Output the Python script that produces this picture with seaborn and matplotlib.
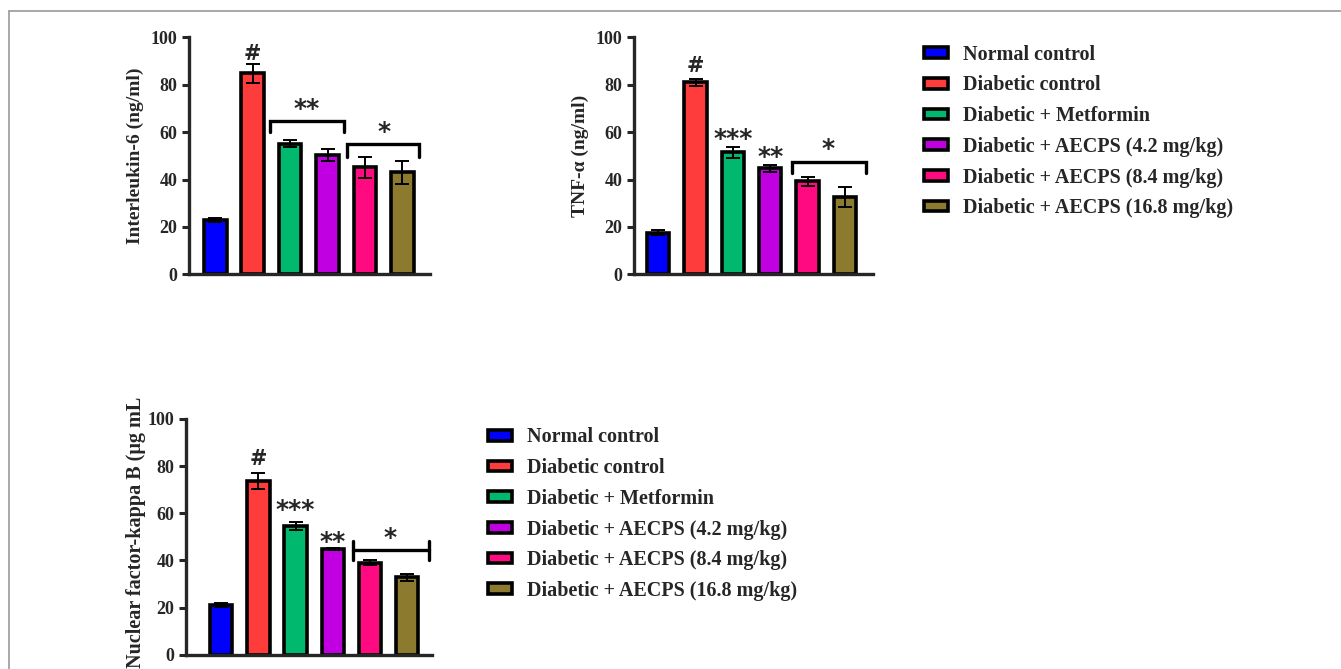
import numpy as np
import pandas as pd
import matplotlib
matplotlib.use("Agg")
import matplotlib.pyplot as plt
import seaborn as sns
from matplotlib.lines import Line2D

# groups and colours
groups = ["Normal control", "Diabetic control", "Diabetic + Metformin",
          "Diabetic + AECPS (4.2 mg/kg)", "Diabetic + AECPS (8.4 mg/kg)",
          "Diabetic + AECPS (16.8 mg/kg)"]
colors = ["#0000ff", "#ff3c3c", "#00b86e", "#c000e0", "#ff0a80", "#8c7a2e"]

# values
il6 = [22.8, 84.8, 55.2, 50.4, 45.2, 43.0]
il6_err = [0.9, 4.2, 1.5, 2.4, 4.4, 4.9]
tnf = [17.6, 81.0, 51.5, 44.7, 39.2, 32.5]
tnf_err = [0.9, 1.5, 2.4, 1.3, 1.8, 4.2]
nfkb = [21.2, 73.7, 54.4, 44.9, 39.1, 32.8]
nfkb_err = [0.7, 3.4, 1.7, 0.5, 1.0, 1.6]

sns.set_style("ticks")
plt.rcParams["font.family"] = ["Liberation Serif", "DejaVu Serif"]
plt.rcParams["font.weight"] = "bold"

fig = plt.figure(figsize=(13.41, 6.69), dpi=100)

def panel(rect, vals, errs, ylabel, xlim, legend=False, lsize=14, lpad=5):
    ax = fig.add_axes(rect)
    df = pd.DataFrame({"group": groups, "value": vals})
    sns.barplot(data=df, x="group", y="value", hue="group", palette=colors,
                saturation=1, width=0.6, edgecolor="black", linewidth=2.6,
                legend=legend, ax=ax, zorder=2)
    ax.errorbar(range(len(vals)), vals, yerr=errs, fmt="none", ecolor="black",
                elinewidth=1.4, capsize=5, capthick=1.4, zorder=3)
    ax.set_ylim(0, 100)
    ax.set_xlim(*xlim)
    ax.set_yticks([0, 20, 40, 60, 80, 100])
    ax.set_xticks([])
    ax.set_xlabel("")
    ax.set_ylabel(ylabel, fontsize=lsize, fontweight="bold", labelpad=lpad)
    ax.tick_params(axis="y", width=2.2, length=5, labelsize=13)
    for lab in ax.get_yticklabels():
        lab.set_fontweight("bold")
    sns.despine(ax=ax)
    ax.spines["left"].set_linewidth(2.4)
    ax.spines["bottom"].set_linewidth(2.4)
    return ax

def stars(ax, x, y, s):
    ax.text(x, y, s, ha="center", va="center", fontsize=18,
            fontweight="bold", family="DejaVu Sans")

def hash_mark(ax, x, y):
    ax.text(x, y, "#", ha="center", va="center", fontsize=15,
            fontweight="bold", family="DejaVu Sans")

def bracket(ax, x0, x1, top, low, high=None):
    if high is None:
        ax.plot([x0, x0, x1, x1], [low, top, top, low], color="black", lw=2.4,
                solid_joinstyle="miter", clip_on=False)
    else:
        ax.plot([x0, x1], [top, top], color="black", lw=2.4, clip_on=False)
        ax.plot([x0, x0], [low, high], color="black", lw=2.4, clip_on=False)
        ax.plot([x1, x1], [low, high], color="black", lw=2.4, clip_on=False)

ax1 = panel([0.141, 0.590, 0.180, 0.354], il6, il6_err,
            "Interleukin-6 (ng/ml)", (-0.7, 5.75))
hash_mark(ax1, 1, 93)
bracket(ax1, 1.47, 3.44, 64.9, 60.0)
stars(ax1, 2.45, 70.0, "**")
bracket(ax1, 3.52, 5.45, 55.0, 49.7)
stars(ax1, 4.5, 60.0, "*")

ax2 = panel([0.473, 0.590, 0.178, 0.354], tnf, tnf_err,
            "TNF-\u03b1 (ng/ml)", (-0.64, 5.75), legend=True)
hash_mark(ax2, 1, 88)
stars(ax2, 2, 57.0, "***")
stars(ax2, 3, 49.5, "**")
bracket(ax2, 3.58, 5.56, 47.3, 42.6)
stars(ax2, 4.55, 53.0, "*")

ax3 = panel([0.139, 0.021, 0.183, 0.353], nfkb, nfkb_err,
            "Nuclear factor-kappa B (\u03bcg mL", (-0.94, 5.67), legend=True,
            lsize=14.5, lpad=1)
ax3.yaxis.set_label_coords(-0.165, 0.52)
hash_mark(ax3, 1, 83)
stars(ax3, 2, 61.5, "***")
stars(ax3, 3, 48.0, "**")
bracket(ax3, 3.55, 5.59, 44.5, 40.3, 48.3)
stars(ax3, 4.55, 49.5, "*")

for ax, anchor in [(ax2, (0.689, 0.933)), (ax3, (0.364, 0.361))]:
    leg = ax.get_legend()
    handles = leg.legend_handles
    labels = [t.get_text() for t in leg.get_texts()]
    leg.remove()
    for h in handles:
        h.set_edgecolor("black")
        h.set_linewidth(2.6)
    ax.legend(handles, labels, loc="upper left", bbox_to_anchor=anchor,
              bbox_transform=fig.transFigure, frameon=False,
              prop={"family": "Liberation Serif", "weight": "bold", "size": 14.5},
              handlelength=1.2, handleheight=0.45, handletextpad=0.75,
              labelspacing=0.53, borderaxespad=0, borderpad=0)

# grey frame lines at top and left
fig.add_artist(Line2D([9 / 1341, 1], [1 - 11 / 669, 1 - 11 / 669],
                      color="#999999", lw=1.2, transform=fig.transFigure))
fig.add_artist(Line2D([9 / 1341, 9 / 1341], [0, 1 - 11 / 669],
                      color="#999999", lw=1.2, transform=fig.transFigure))

fig.savefig("out.png", dpi=100)
